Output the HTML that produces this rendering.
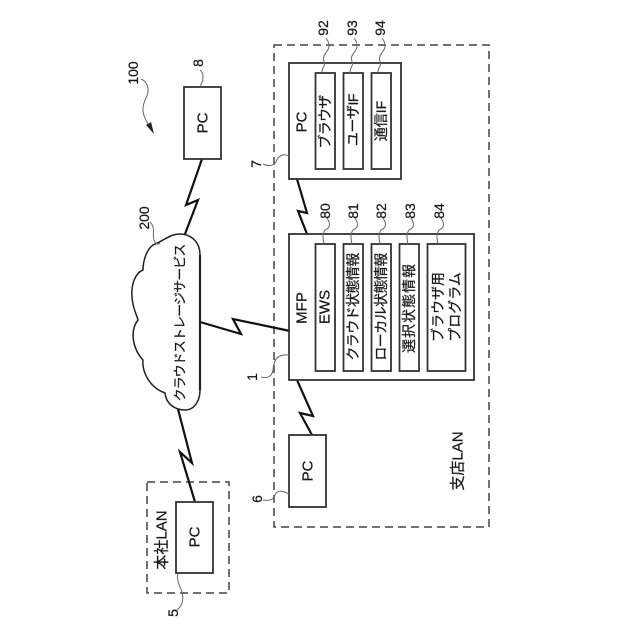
<!DOCTYPE html>
<html>
<head>
<meta charset="utf-8">
<style>
html,body{margin:0;padding:0;background:#fff;}
svg{display:block;}
text{font-family:"Liberation Sans","Noto Sans CJK JP",sans-serif;fill:#1a1a1a;stroke:#1a1a1a;stroke-width:.25;text-anchor:middle;dominant-baseline:central;}
.b{fill:#fff;stroke:#333;stroke-width:1.8;}
.d{fill:none;stroke:#444;stroke-width:1.5;stroke-dasharray:8 5;}
.z{fill:none;stroke:#111;stroke-width:2.2;stroke-linejoin:miter;}
.l{fill:none;stroke:#666;stroke-width:1;}
</style>
</head>
<body>
<svg width="640" height="640" viewBox="0 0 640 640" xmlns="http://www.w3.org/2000/svg">
<rect width="640" height="640" fill="#fff"/>

<!-- dashed LANs -->
<rect class="d" x="274" y="45" width="215" height="482"/>
<rect class="d" x="147" y="482" width="82" height="111"/>

<!-- connectors -->
<polyline class="z" points="202,159 186,205 198,200 185,234"/>
<polyline class="z" points="200,322 241,334 233,319 290,331"/>
<polyline class="z" points="178,409 192,463 180,452 195,502"/>
<polyline class="z" points="297,179 307,213 298,211 307,234"/>
<polyline class="z" points="312,435 300,413 313,416 297,380"/>

<!-- cloud -->
<path d="M200 255 C200 241 190 234 180 234 C170 234 165 240 153 245 C146 250 143 262 143 270 C135 273 131 285 132 297 C133 310 137 315 138 320 C130 330 132 348 143 360 C142 370 148 387 165 393 C166 404 175 410 185 410 C195 410 200 400 200 390 Z" fill="#fff" stroke="#222" stroke-width="1.5"/>
<line x1="200" y1="255" x2="200" y2="390" stroke="#222" stroke-width="2.2"/>
<text transform="translate(180 323) rotate(-90)" font-size="13" letter-spacing="-.9">クラウドストレージサービス</text>

<!-- PC 8 -->
<rect class="b" x="184" y="87" width="37" height="72"/>
<text transform="translate(203 123) rotate(-90)" font-size="15">PC</text>

<!-- PC 5 -->
<rect class="b" x="176" y="502" width="37" height="71"/>
<text transform="translate(195 537) rotate(-90)" font-size="15">PC</text>
<text transform="translate(162 540) rotate(-90)" font-size="15">本社LAN</text>

<!-- PC 6 -->
<rect class="b" x="289" y="435" width="37" height="72"/>
<text transform="translate(308 471) rotate(-90)" font-size="15">PC</text>

<!-- PC 7 -->
<rect class="b" x="289" y="63" width="112" height="116"/>
<text transform="translate(302 122) rotate(-90)" font-size="15">PC</text>
<rect class="b" x="315.500" y="73" width="19.500" height="96"/>
<rect class="b" x="343.500" y="73" width="19.500" height="96"/>
<rect class="b" x="371.500" y="73" width="19.500" height="96"/>
<text transform="translate(325 122) rotate(-90)" font-size="14" letter-spacing="-.7">ブラウザ</text>
<text transform="translate(353 120) rotate(-90)" font-size="14" letter-spacing="-.4">ユーザIF</text>
<text transform="translate(381 121) rotate(-90)" font-size="14">通信IF</text>

<!-- MFP -->
<rect class="b" x="289" y="234" width="185" height="146"/>
<text transform="translate(302 308) rotate(-90)" font-size="15">MFP</text>
<rect class="b" x="315.500" y="244" width="19.500" height="127"/>
<rect class="b" x="343.500" y="244" width="19.500" height="127"/>
<rect class="b" x="371.500" y="244" width="19.500" height="127"/>
<rect class="b" x="399.500" y="244" width="19.500" height="127"/>
<rect class="b" x="427.500" y="244" width="38" height="127"/>
<text transform="translate(325 307) rotate(-90)" font-size="15">EWS</text>
<text transform="translate(353 307) rotate(-90)" font-size="14" letter-spacing="-.6">クラウド状態情報</text>
<text transform="translate(381 307) rotate(-90)" font-size="14" letter-spacing="-.6">ローカル状態情報</text>
<text transform="translate(409 308) rotate(-90)" font-size="14" letter-spacing="1">選択状態情報</text>
<text transform="translate(438 307) rotate(-90)" font-size="14">ブラウザ用</text>
<text transform="translate(455 307) rotate(-90)" font-size="14">プログラム</text>

<text transform="translate(458 461) rotate(-90)" font-size="15">支店LAN</text>

<!-- leaders -->
<path class="l" d="M326 38 C332 46 328 50 325 54 C321 60 326 62 324 66 C322 69 322 71 322 73"/>
<path class="l" d="M354 38 C360 46 356 50 353 54 C349 60 354 62 352 66 C350 69 350 71 350 73"/>
<path class="l" d="M382 38 C388 46 384 50 381 54 C377 60 382 62 380 66 C378 69 378 71 378 73"/>
<path class="l" d="M327 218 C331 224 330 228 325 230 C322 234 323 240 324 244"/>
<path class="l" d="M355 218 C359 224 358 228 353 230 C350 234 351 240 352 244"/>
<path class="l" d="M383 218 C387 224 386 228 381 230 C378 234 379 240 380 244"/>
<path class="l" d="M411 218 C415 224 414 228 409 230 C406 234 407 240 408 244"/>
<path class="l" d="M441 218 C445 224 444 228 439 230 C436 234 437 240 438 244"/>
<path class="l" d="M263 164 C270 167 274 165 276 162 C278 156 283 153 289 156"/>
<path class="l" d="M261 377 C268 379 272 376 273 370 C274 360 276 354 289 355"/>
<path class="l" d="M263 500 C270 501 274 499 275 495 C277 490 282 490 289 494"/>
<path class="l" d="M178 573 C176 580 180 586 182 592 C184 600 182 606 177 610"/>
<path class="l" d="M200 70 C205 74 202 78 203 80 C202 83 200 84 201 87"/>
<path class="l" d="M150 222 C156 228 152 234 154 240 C155 244 158 245 160 243"/>

<!-- 100 arrow -->
<path class="l" d="M141 79 C148 82 150 90 146 98 C142 106 142 112 145 118 C147 123 150 127 152 129"/>
<polygon points="154,134 146,125 151,122" fill="#222"/>

<!-- reference numbers -->
<text transform="translate(323 28) rotate(-90)" font-size="14">92</text>
<text transform="translate(352 28) rotate(-90)" font-size="14">93</text>
<text transform="translate(380 28) rotate(-90)" font-size="14">94</text>
<text transform="translate(325 211) rotate(-90)" font-size="14">80</text>
<text transform="translate(353 211) rotate(-90)" font-size="14">81</text>
<text transform="translate(381 211) rotate(-90)" font-size="14">82</text>
<text transform="translate(410 211) rotate(-90)" font-size="14">83</text>
<text transform="translate(439 211) rotate(-90)" font-size="14">84</text>
<text transform="translate(133 73) rotate(-90)" font-size="14">100</text>
<text transform="translate(198 63) rotate(-90)" font-size="14">8</text>
<text transform="translate(144 218) rotate(-90)" font-size="14">200</text>
<text transform="translate(256 164) rotate(-90)" font-size="14">7</text>
<text transform="translate(252 377) rotate(-90)" font-size="14">1</text>
<text transform="translate(257 499) rotate(-90)" font-size="14">6</text>
<text transform="translate(173 613) rotate(-90)" font-size="14">5</text>
</svg>
</body>
</html>
